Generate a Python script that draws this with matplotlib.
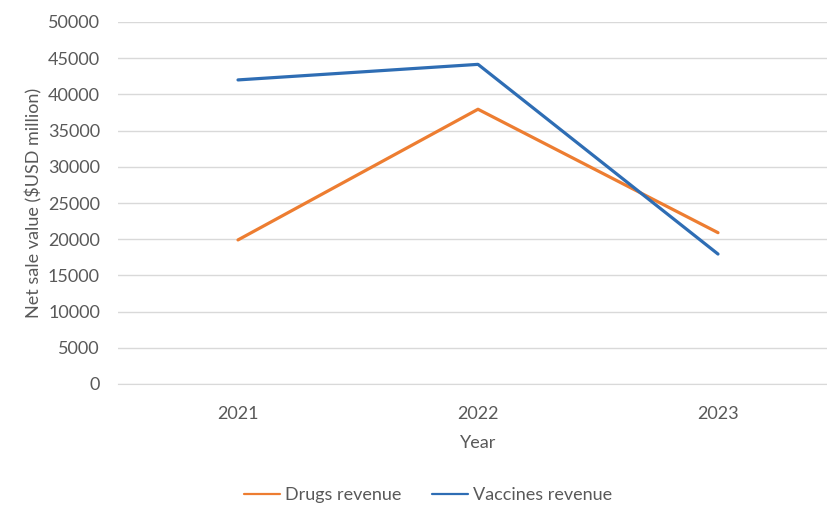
import matplotlib.pyplot as plt

years = ['2021', '2022', '2023']
drugs_revenue = [19900, 37950, 20900]
vaccines_revenue = [42000, 44150, 17950]
y_ticks = list(range(0, 50001, 5000))

TEXT = '#595959'
GRID = '#d9d9d9'

plt.rcParams['font.family'] = ['Lato', 'DejaVu Sans']

fig = plt.figure(figsize=(8.27, 5.08), dpi=100)
ax = fig.add_axes([118 / 827, 1 - 384 / 508, 720 / 827, 362 / 508])

x = range(len(years))
ax.plot(x, drugs_revenue, color='#ED7D31', lw=2.3, label='Drugs revenue', solid_capstyle='round')
ax.plot(x, vaccines_revenue, color='#2E6DB4', lw=2.3, label='Vaccines revenue', solid_capstyle='round')

ax.set_xlim(-0.5, 2.5)
ax.set_ylim(0, 50000)
ax.set_xticks(list(x))
ax.set_xticklabels(years)
ax.set_yticks(y_ticks)
ax.set_yticklabels([str(t) for t in y_ticks])

ax.grid(axis='y', color=GRID, lw=1)
ax.set_axisbelow(True)
for side in ['top', 'right', 'left']:
    ax.spines[side].set_visible(False)
ax.spines['bottom'].set_color(GRID)
ax.tick_params(axis='both', length=0, colors=TEXT, labelsize=13)
ax.tick_params(axis='y', pad=13)
ax.tick_params(axis='x', pad=16)

ax.set_xlabel('Year', color=TEXT, fontsize=13, labelpad=9)
ax.set_ylabel('Net sale value ($USD million)', color=TEXT, fontsize=13, labelpad=4)

fig.legend(loc='center', bbox_to_anchor=(428 / 827, 1 - 495 / 508), ncol=2,
           frameon=False, fontsize=13, handlelength=2.0, columnspacing=1.7,
           handletextpad=0.25, labelcolor=TEXT)
for line in fig.legends[0].get_lines():
    line.set_linewidth(1.6)

fig.savefig('out.png', dpi=100)
